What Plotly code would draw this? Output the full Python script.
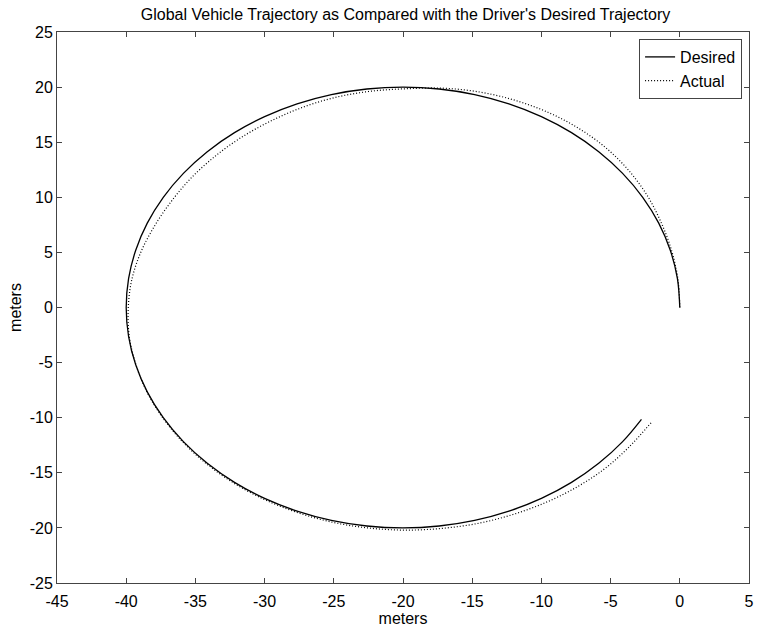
import plotly.graph_objects as go

# Desired trajectory (meters)
desired_x = [0.0, -0.171, -0.681, -1.522, -2.679, -4.133, -5.858, -7.825, -10.0, -12.346, -14.824, -17.389,
             -20.0, -22.611, -25.176, -27.654, -30.0, -32.175, -34.142, -35.867, -37.321, -38.478, -39.319,
             -39.829, -40.0, -39.829, -39.319, -38.478, -37.321, -35.867, -34.142, -32.175, -30.0, -27.654,
             -25.176, -22.611, -20.0, -17.389, -14.824, -12.346, -10.0, -7.825, -5.858, -4.133, -2.77]
desired_y = [0.0, 2.611, 5.176, 7.654, 10.0, 12.175, 14.142, 15.867, 17.321, 18.478, 19.319, 19.829,
             20.0, 19.829, 19.319, 18.478, 17.321, 15.867, 14.142, 12.175, 10.0, 7.654, 5.176,
             2.611, 0.0, -2.611, -5.176, -7.654, -10.0, -12.175, -14.142, -15.867, -17.321, -18.478,
             -19.319, -19.829, -20.0, -19.829, -19.319, -18.478, -17.321, -15.867, -14.142, -12.175, -10.15]

# Actual trajectory (meters)
actual_x = [0.0, -0.14, -0.6, -1.35, -2.35, -3.7, -5.35, -7.3, -9.5, -11.9, -14.45, -17.1,
            -19.8, -22.5, -25.1, -27.5, -29.75, -31.85, -33.7, -35.35, -36.7, -37.95, -38.95,
            -39.6, -39.85, -39.78, -39.3, -38.5, -37.35, -35.9, -34.18, -32.2, -30.02, -27.65,
            -25.15, -22.55, -19.9, -17.25, -14.62, -12.1, -9.7, -7.45, -5.45, -3.7, -2.05]
actual_y = [0.0, 2.62, 5.2, 7.72, 10.15, 12.45, 14.5, 16.25, 17.7, 18.8, 19.55, 19.9,
            19.85, 19.6, 19.0, 18.05, 16.8, 15.3, 13.6, 11.7, 9.7, 7.4, 5.0,
            2.5, 0.0, -2.6, -5.18, -7.66, -10.02, -12.22, -14.2, -15.95, -17.42, -18.6,
            -19.47, -20.0, -20.2, -20.05, -19.6, -18.8, -17.7, -16.3, -14.65, -12.7, -10.42]

title_text = "Global Vehicle Trajectory as Compared with the Driver's Desired Trajectory"
x_ticks = list(range(-45, 6, 5))
y_ticks = list(range(-25, 26, 5))

FONT = "Liberation Sans, Arial, sans-serif"
FS = 16

fig = go.Figure()
fig.add_trace(go.Scatter(x=desired_x, y=desired_y, mode="lines", name="Desired",
                         line=dict(color="black", width=1.3, shape="spline")))
fig.add_trace(go.Scatter(x=actual_x, y=actual_y, mode="lines", name="Actual",
                         line=dict(color="black", width=1.2, dash="1px,2px", shape="spline")))

axis_common = dict(showgrid=False, zeroline=False, showline=True, linecolor="#444",
                   linewidth=1, mirror="ticks", ticks="inside", ticklen=5, tickcolor="#444",
                   tickfont=dict(family=FONT, size=FS, color="black"))

fig.update_xaxes(range=[-45, 5], tickvals=x_ticks, ticktext=[str(v) for v in x_ticks],
                 ticklabelstandoff=4,
                 title=dict(text="meters", font=dict(family=FONT, size=FS, color="black"), standoff=0),
                 **axis_common)
fig.update_yaxes(range=[-25, 25], tickvals=y_ticks, ticktext=[str(v) for v in y_ticks],
                 title=dict(text="meters", font=dict(family=FONT, size=FS, color="black"), standoff=4),
                 **axis_common)

fig.update_layout(
    width=762, height=631,
    margin=dict(l=57, r=8, t=32, b=48),
    paper_bgcolor="white", plot_bgcolor="white",
    font=dict(family=FONT, size=FS, color="black"),
    title=dict(text=title_text, x=(57 + 754) / 2 / 762, xanchor="center",
               y=1 - 14 / 631, yanchor="middle", yref="container",
               font=dict(family=FONT, size=FS, color="black")),
    showlegend=True,
    legend=dict(x=0.99, y=0.9873, xanchor="right", yanchor="top",
                bordercolor="#444", borderwidth=1, bgcolor="white",
                font=dict(family=FONT, size=FS, color="black"),
                tracegroupgap=0, itemwidth=30),
)

fig.write_html("out.html")
